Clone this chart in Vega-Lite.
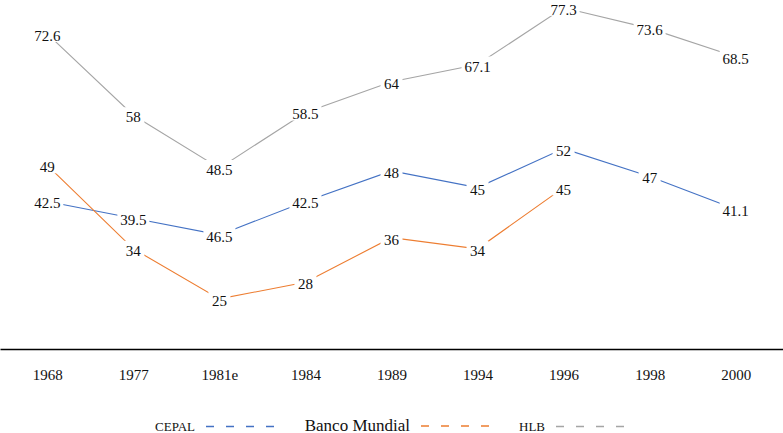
{
  "$schema": "https://vega.github.io/schema/vega-lite/v6.json",
  "width": 783,
  "height": 349,
  "autosize": {"type": "none"},
  "padding": {"left": 0, "right": 0, "top": 0, "bottom": 84},
  "background": "white",
  "config": {
    "view": {"stroke": null},
    "font": "Liberation Serif"
  },
  "data": {
    "values": [
      {"year": "1968", "serie": "CEPAL", "value": 42.5, "label": "42.5"},
      {"year": "1977", "serie": "CEPAL", "value": 39.5, "label": "39.5"},
      {"year": "1981e", "serie": "CEPAL", "value": 36.5, "label": "46.5"},
      {"year": "1984", "serie": "CEPAL", "value": 42.5, "label": "42.5"},
      {"year": "1989", "serie": "CEPAL", "value": 48, "label": "48"},
      {"year": "1994", "serie": "CEPAL", "value": 45, "label": "45"},
      {"year": "1996", "serie": "CEPAL", "value": 52, "label": "52"},
      {"year": "1998", "serie": "CEPAL", "value": 47, "label": "47"},
      {"year": "2000", "serie": "CEPAL", "value": 41.1, "label": "41.1"},
      {"year": "1968", "serie": "Banco Mundial", "value": 49, "label": "49"},
      {"year": "1977", "serie": "Banco Mundial", "value": 34, "label": "34"},
      {"year": "1981e", "serie": "Banco Mundial", "value": 25, "label": "25"},
      {"year": "1984", "serie": "Banco Mundial", "value": 28, "label": "28"},
      {"year": "1989", "serie": "Banco Mundial", "value": 36, "label": "36"},
      {"year": "1994", "serie": "Banco Mundial", "value": 34, "label": "34"},
      {"year": "1996", "serie": "Banco Mundial", "value": 45, "label": "45"},
      {"year": "1968", "serie": "HLB", "value": 72.6, "label": "72.6"},
      {"year": "1977", "serie": "HLB", "value": 58, "label": "58"},
      {"year": "1981e", "serie": "HLB", "value": 48.5, "label": "48.5"},
      {"year": "1984", "serie": "HLB", "value": 58.5, "label": "58.5"},
      {"year": "1989", "serie": "HLB", "value": 64, "label": "64"},
      {"year": "1994", "serie": "HLB", "value": 67.1, "label": "67.1"},
      {"year": "1996", "serie": "HLB", "value": 77.3, "label": "77.3"},
      {"year": "1998", "serie": "HLB", "value": 73.6, "label": "73.6"},
      {"year": "2000", "serie": "HLB", "value": 68.5, "label": "68.5"}
    ]
  },
  "encoding": {
    "x": {
      "field": "year",
      "type": "ordinal",
      "sort": null,
      "scale": {"type": "point", "padding": 0.55},
      "title": null,
      "axis": {
        "labelAngle": 0,
        "ticks": false,
        "grid": false,
        "domainColor": "#000000",
        "domainWidth": 1.5,
        "labelFont": "Liberation Serif",
        "labelFontSize": 15,
        "labelColor": "#111111",
        "labelPadding": 18
      }
    },
    "y": {
      "field": "value",
      "type": "quantitative",
      "scale": {"domain": [16, 78.7], "nice": false, "zero": false},
      "axis": null
    }
  },
  "layer": [
    {
      "mark": {"type": "line", "strokeWidth": 1.1},
      "encoding": {
        "color": {
          "field": "serie",
          "type": "nominal",
          "scale": {
            "domain": ["CEPAL", "Banco Mundial", "HLB"],
            "range": ["#4472C4", "#ED7D31", "#A5A5A5"]
          },
          "legend": {
            "title": null,
            "orient": "none",
            "legendX": 205,
            "legendY": 391,
            "direction": "horizontal",
            "symbolType": "stroke",
            "symbolSize": 4624,
            "symbolStrokeWidth": 1.5,
            "symbolDash": [8, 12],
            "symbolOpacity": 1,
            "labelAlign": "right",
            "labelOffset": -80,
            "columnPadding": 27,
            "labelFont": "Liberation Serif",
            "labelColor": "#111111",
            "labelLimit": 300,
            "encode": {
              "labels": {
                "update": {
                  "fontSize": {"signal": "datum.label == 'Banco Mundial' ? 17 : 13"}
                }
              }
            }
          }
        }
      }
    },
    {
      "mark": {"type": "point", "filled": true, "fill": "white", "strokeWidth": 0, "opacity": 1, "size": 400},
      "encoding": {
        "shape": {
          "condition": {"test": "length(datum.label) > 2", "value": "M-1.6,-0.8H1.6V0.8H-1.6Z"},
          "value": "M-1.1,-0.8H1.1V0.8H-1.1Z"
        }
      }
    },
    {
      "mark": {
        "type": "text",
        "font": "Liberation Serif",
        "fontSize": 15,
        "baseline": "middle",
        "dy": 2,
        "color": "#111111"
      },
      "encoding": {
        "text": {"field": "label"}
      }
    }
  ]
}
